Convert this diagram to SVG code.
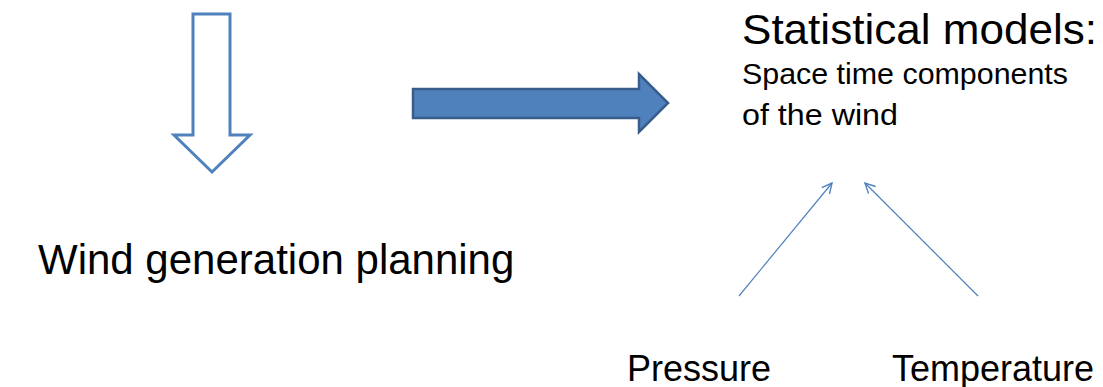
<svg xmlns="http://www.w3.org/2000/svg" width="1103" height="387" viewBox="0 0 1103 387">
<defs>
<style>
text{font-family:"Liberation Sans",Arial,sans-serif;fill:#000}
.big{font-size:36px}
.title{font-size:42px}
.mid{font-size:30px}
.conn{stroke:#4F81BD;stroke-width:1.2;fill:none}
</style>
<marker id="open" viewBox="0 0 12 12" refX="11" refY="6" markerWidth="12" markerHeight="12" markerUnits="userSpaceOnUse" orient="auto">
<path d="M1,1 L11,6 L1,11" fill="none" stroke="#4F81BD" stroke-width="1.4"/>
</marker>
</defs>
<rect width="1103" height="387" fill="#fff"/>
<g id="down-arrow">
<path d="M193,14 L230,14 L230,135 L250,135 L212,172 L174,135 L193,135 Z" fill="#fff" stroke="#4F81BD" stroke-width="3"/>
</g>
<g id="right-arrow">
<path d="M413,89 L639,89 L639,74 L668,103 L639,132 L639,118 L413,118 Z" fill="#4F81BD" stroke="#385D8A" stroke-width="2.5"/>
</g>
<g id="wind-planning"><text class="title" x="38" y="274">Wind generation planning</text></g>
<g id="statistical-models">
<text class="title" x="742" y="44" textLength="355" lengthAdjust="spacingAndGlyphs">Statistical models:</text>
<text class="mid" x="742" y="84" textLength="326" lengthAdjust="spacingAndGlyphs">Space time components</text>
<text class="mid" x="742" y="125" textLength="156" lengthAdjust="spacingAndGlyphs">of the wind</text>
</g>
<g id="pressure"><text class="big" x="627" y="381">Pressure</text></g>
<g id="temperature"><text class="big" x="892" y="381">Temperature</text></g>
<g id="connectors">
<line class="conn" x1="739" y1="296" x2="832" y2="183" marker-end="url(#open)"/>
<line class="conn" x1="978" y1="296" x2="865" y2="183" marker-end="url(#open)"/>
</g>
</svg>
